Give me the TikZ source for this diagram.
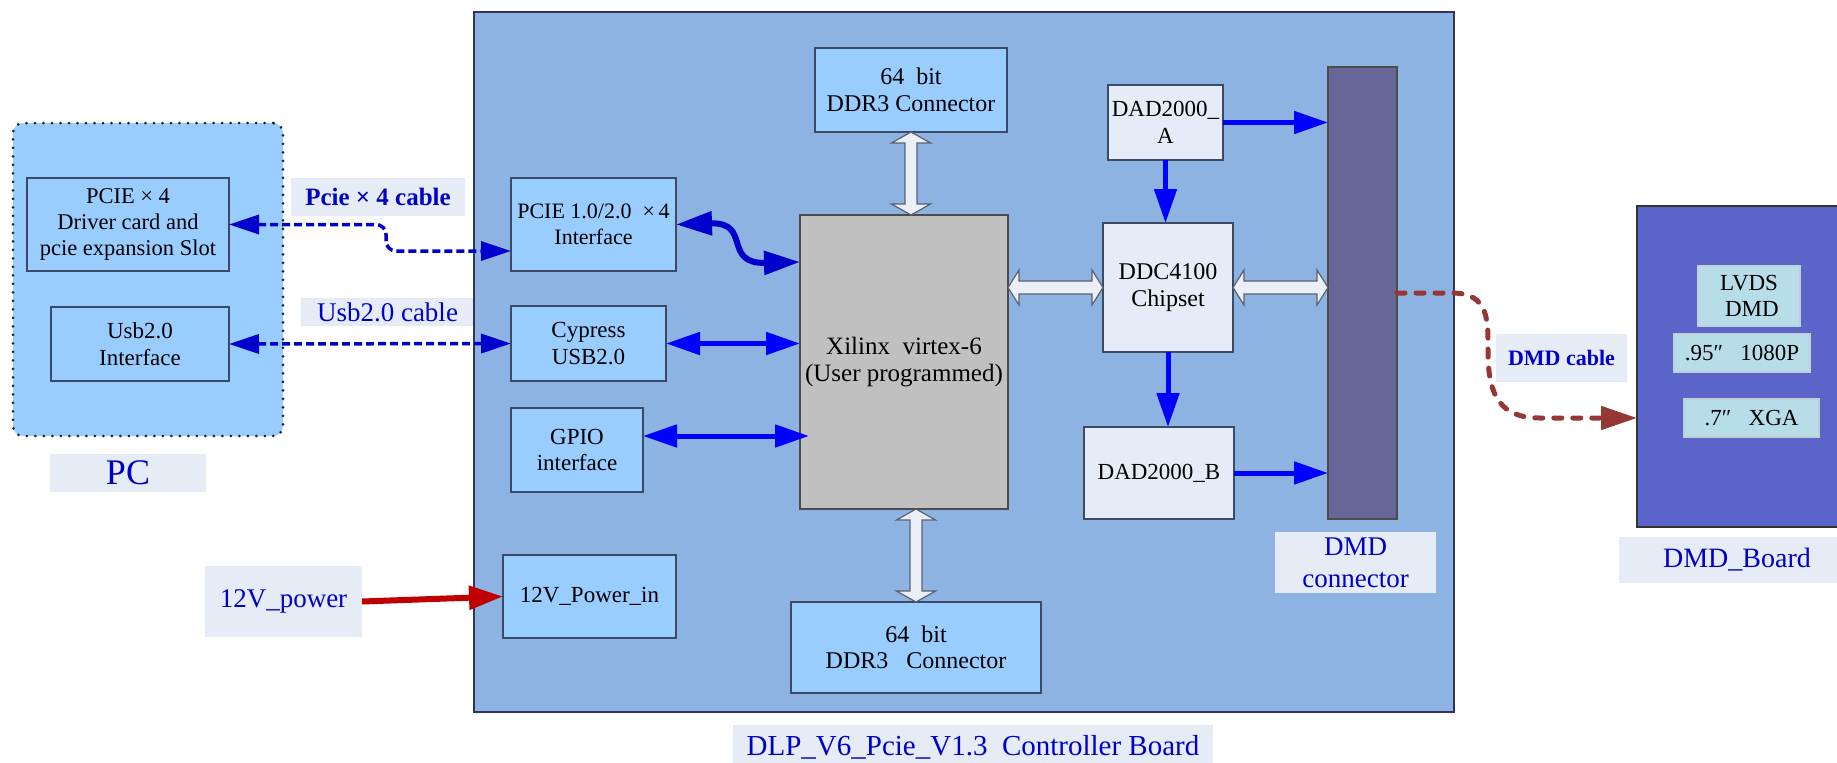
\documentclass[tikz,border=0pt]{standalone}
\usepackage{fontspec}
\setmainfont{Liberation Serif}
\usetikzlibrary{arrows.meta,calc}
\definecolor{boardc}{HTML}{8DB3E2}
\definecolor{lblue}{HTML}{99CCFF}
\definecolor{xgray}{HTML}{C0C0C0}
\definecolor{pale}{HTML}{E6ECF7}
\definecolor{lblbg}{HTML}{E6ECF6}
\definecolor{barc}{HTML}{666699}
\definecolor{dmdc}{HTML}{5B64C9}
\definecolor{cyanb}{HTML}{B7DDE8}
\definecolor{dblue}{HTML}{0000CC}
\definecolor{txtblue}{HTML}{0000C8}
\definecolor{pblue}{HTML}{0000FF}
\definecolor{redarr}{HTML}{C00000}
\definecolor{brownarr}{HTML}{953735}
\definecolor{edgec}{HTML}{3C4A66}
\definecolor{fatfill}{HTML}{EAEFF8}
\definecolor{fatedge}{HTML}{5A6272}
\newcommand\boxat[7]{%
 \pgfmathsetmacro\bw{#4-#2}\pgfmathsetmacro\bh{#5-#3}%
 \pgfmathsetmacro\bcx{(#2+#4)/2}\pgfmathsetmacro\bcy{(#3+#5)/2}%
 \node[#6, minimum width=\bw pt, minimum height=\bh pt] (#1) at (\bcx,\bcy) {#7};}
\newcommand\fatv[2]{\filldraw[fatarr] let \p1=#1, \p2=#2 in
 (\x1,\y1) -- (\x1+19.5pt,\y1-11pt) -- (\x1+6pt,\y1-11pt) -- (\x1+6pt,\y2+11pt) -- (\x1+19.5pt,\y2+11pt) -- (\x1,\y2)
 -- (\x1-19.5pt,\y2+11pt) -- (\x1-6pt,\y2+11pt) -- (\x1-6pt,\y1-11pt) -- (\x1-19.5pt,\y1-11pt) -- cycle;}
\newcommand\fath[2]{\filldraw[fatarr] let \p1=#1, \p2=#2 in
 (\x1,\y1) -- (\x1+11pt,\y1+17.5pt) -- (\x1+11pt,\y1+6.5pt) -- (\x2-11pt,\y1+6.5pt) -- (\x2-11pt,\y1+17.5pt) -- (\x2,\y1)
 -- (\x2-11pt,\y1-17.5pt) -- (\x2-11pt,\y1-6.5pt) -- (\x1+11pt,\y1-6.5pt) -- (\x1+11pt,\y1-17.5pt) -- cycle;}
\tikzset{
 blk/.style={draw=edgec, line width=1.2pt, inner sep=0pt, outer sep=0pt, align=center, font=\fontsize{23}{26.5}\selectfont},
 lbx/.style={blk, fill=lblue},
 pbx/.style={blk, fill=pale},
 cyb/.style={blk, fill=cyanb, draw=cyanb!80!black!60!white},
 lbl/.style={fill=lblbg, inner sep=0pt, outer sep=0pt, align=center, text=txtblue},
 pcbox/.style={fill=lblue, draw=black!85, line width=3pt, dash pattern=on 0pt off 8.5pt, line cap=round, rounded corners=10pt, inner sep=0pt, outer sep=0pt},
 boardbox/.style={fill=boardc, draw=black!70!blue!60!gray, line width=1.5pt, inner sep=0pt, outer sep=0pt},
 cabl/.style={draw=dblue, line width=3.5pt, dash pattern=on 8pt off 4pt, rounded corners=10pt, >={Triangle[length=30pt,width=19pt]}},
 cblue/.style={draw=dblue, line width=6pt, >={Triangle[length=36pt,width=23pt]}},
 sblue/.style={draw=pblue, line width=5pt, >={Triangle[length=34pt,width=22pt]}},
 redarrow/.style={draw=redarr, line width=6pt, >={Triangle[length=34pt,width=23pt]}},
 dmdcab/.style={draw=brownarr, line width=5pt, line cap=round, dash pattern=on 8pt off 11pt, >={Triangle[length=36pt,width=23pt]}},
 fatarr/.style={fill=fatfill, draw=fatedge, line width=1.2pt, line join=miter},
}
\begin{document}
\begin{tikzpicture}[x=1pt,y=-1pt]
\useasboundingbox (0,0) rectangle (1837,763);
\fill[white] (0,0) rectangle (1837,763);
% PC side
\boxat{pc}{13}{123}{283}{436}{pcbox}{}
\boxat{pcie4}{27}{178}{229}{271}{lbx,font=\fontsize{22.5}{26}\selectfont}{PCIE × 4\\Driver card and\\pcie expansion Slot}
\boxat{usbpc}{51}{307}{229}{381}{lbx}{Usb2.0\\Interface}
\boxat{lpcie}{291}{178}{465}{216}{lbl,font=\fontsize{25}{30}\selectfont\bfseries}{Pcie × 4 cable}
\boxat{lusb}{301}{298}{474}{326}{lbl,font=\fontsize{27}{30}\selectfont}{Usb2.0 cable}
\boxat{lpc}{50}{454}{206}{492}{lbl,font=\fontsize{36}{40}\selectfont}{PC}
\boxat{l12v}{205}{566}{362}{637}{lbl,font=\fontsize{27}{30}\selectfont}{12V\_power}
% controller board
\boxat{board}{474}{12}{1454}{712}{boardbox}{}
\boxat{pcieif}{511}{178}{676}{271}{lbx,font=\fontsize{22}{26}\selectfont}{PCIE 1.0/2.0\ \ ×\,4\\Interface}
\boxat{cyp}{511}{306}{666}{381}{lbx}{Cypress\\USB2.0}
\boxat{gpio}{511}{408}{643}{492}{lbx}{GPIO\\interface}
\boxat{pwr}{503}{555}{676}{638}{lbx}{12V\_Power\_in}
\boxat{ddrt}{815}{48}{1007}{132}{lbx,font=\fontsize{24}{26.5}\selectfont}{64\ \ bit\\DDR3 Connector}
\boxat{xil}{800}{215}{1008}{509}{blk,fill=xgray,draw=black!70,font=\fontsize{25}{27}\selectfont}{Xilinx\ \ virtex-6\\(User programmed)}
\boxat{ddrb}{791}{602}{1041}{693}{lbx,font=\fontsize{24}{26.5}\selectfont}{64\ \ bit\\DDR3\ \ \ Connector}
\boxat{dada}{1108}{85}{1223}{160}{pbx}{DAD2000\_\\A}
\boxat{ddc}{1103}{223}{1233}{352}{pbx,font=\fontsize{24}{27}\selectfont}{DDC4100\\Chipset}
\boxat{dadb}{1084}{427}{1234}{519}{pbx}{DAD2000\_B}
\boxat{bar}{1328}{67}{1397}{519}{blk,fill=barc,draw=black!70}{}
\boxat{ldmdc}{1275}{532}{1436}{593}{lbl,font=\fontsize{27}{32}\selectfont}{DMD\\connector}
\boxat{lboard}{733}{725}{1213}{770}{lbl,font=\fontsize{29}{32}\selectfont}{DLP\_V6\_Pcie\_V1.3\ \ Controller Board}
% DMD board
\boxat{dmdb}{1637}{206}{1845}{527}{blk,fill=dmdc,draw=black!80}{}
\boxat{lvds}{1698}{266}{1800}{326}{cyb}{LVDS\\\ DMD}
\boxat{p95}{1674}{334}{1810}{372}{cyb}{.95″\ \ \ 1080P}
\boxat{p7}{1684}{399}{1819}{437}{cyb}{.7″\ \ \ XGA}
\boxat{ldmdcab}{1496}{334}{1627}{382}{lbl,font=\fontsize{22}{26}\selectfont\bfseries}{DMD cable}
\boxat{ldmdb}{1619}{537}{1855}{583}{lbl,font=\fontsize{28}{32}\selectfont}{DMD\_Board}
% coordinates
\coordinate (pcieinpt) at ($(pcieif.west)+(0,26.5)$);
\coordinate (xilin) at ($(xil.west)+(0,-100)$);
\coordinate (gpioout) at ($(gpio.east)+(0,-14)$);
\coordinate (gpioin) at ($(gpioout -| xil.west)+(9,0)$);
\coordinate (dmdin) at ($(dmdb.west)+(0,51.5)$);
% connectors
\draw[cabl,<->] (pcie4.east) -- (386,224.5) -- (386,251) -- (pcieinpt);
\draw[cabl,<->] (usbpc.east) -- (cyp.west);
\draw[cblue,<->] (pcieif.east) .. controls (752,222) and (722,264) .. (xilin);
\draw[sblue,<->] (cyp.east) -- (cyp.east -| xil.west);
\draw[sblue,<->] (gpioout) -- (gpioin);
\fatv{(ddrt.south)}{(ddrt.south |- xil.north)}
\fatv{(ddrb.north |- xil.south)}{(ddrb.north)}
\fath{(xil.east |- ddc.west)}{(ddc.west)}
\fath{(ddc.east)}{(ddc.east -| bar.west)}
\draw[sblue,->] (dada.east) -- (dada.east -| bar.west);
\draw[sblue,->] (dada.south) -- (dada.south |- ddc.north);
\draw[sblue,->] (ddc.south) -- (ddc.south |- dadb.north);
\draw[sblue,->] (dadb.east) -- (dadb.east -| bar.west);
\draw[redarrow,->] (l12v.east) -- (pwr.west);
\draw[dmdcab,->] (bar.east) -- (1452,293) .. controls (1490,293) and (1488,322) .. (1488,352) .. controls (1488,398) and (1502,418) .. (1540,418) -- (dmdin);
\end{tikzpicture}
\end{document}
